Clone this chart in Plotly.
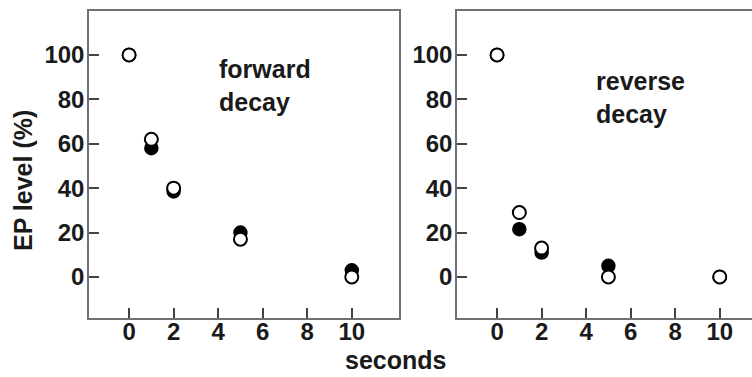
import plotly.graph_objects as go

# Data
seconds = [0, 1, 2, 5, 10]
forward_open = [100, 62, 40, 17, 0]
forward_filled = [100, 58, 38.5, 20, 3]
reverse_open = [100, 29, 13, 0, 0]
reverse_filled = [100, 21.5, 11, 5, 0]
x_ticks = [0, 2, 4, 6, 8, 10]
y_ticks = [0, 20, 40, 60, 80, 100]

FONT = "Liberation Sans, Arial, sans-serif"
INK = "#1a1a1a"
FRAME = "#707070"

fig = go.Figure()

def add_panel(xa, ya, filled, opened):
    fig.add_trace(go.Scatter(x=seconds, y=filled, mode="markers", xaxis=xa, yaxis=ya,
                             marker=dict(size=13, color="black", line=dict(color="black", width=1.5)),
                             showlegend=False, cliponaxis=False))
    fig.add_trace(go.Scatter(x=seconds, y=opened, mode="markers", xaxis=xa, yaxis=ya,
                             marker=dict(size=13, color="white", line=dict(color="black", width=2)),
                             showlegend=False, cliponaxis=False))

add_panel("x", "y", forward_filled, forward_open)
add_panel("x2", "y2", reverse_filled, reverse_open)

tickfont = dict(family=FONT, size=24, color=INK, weight="bold")
common_x = dict(tickmode="array", tickvals=x_ticks, ticks="inside", ticklen=10, tickwidth=1.5,
                tickcolor="#444", showline=True, linecolor=FRAME, linewidth=1.5,
                showgrid=False, zeroline=False, tickfont=tickfont, ticklabelstandoff=-9)
common_y = dict(tickmode="array", tickvals=y_ticks, ticks="inside", ticklen=10, tickwidth=1.5,
                tickcolor="#444", showline=True, linecolor=FRAME, linewidth=1.5,
                showgrid=False, zeroline=False, tickfont=tickfont, range=[-18.5, 119.8],
                ticklabelstandoff=-2)

fig.update_layout(
    width=752, height=377,
    margin=dict(l=0, r=0, t=0, b=0),
    paper_bgcolor="white", plot_bgcolor="white",
    xaxis=dict(domain=[89/752, 399/752], range=[-1.8, 12.12], mirror=True, anchor="y", **common_x),
    yaxis=dict(domain=[1-318/377, 1-11/377], mirror=True, anchor="x", **common_y),
    xaxis2=dict(domain=[457/752, 1.0], range=[-1.8, 11.45], mirror=True, anchor="y2", **common_x),
    yaxis2=dict(domain=[1-318/377, 1-11/377], mirror=False, anchor="x2", **common_y),
)

annfont = dict(family=FONT, size=25, color=INK, weight="bold")
fig.add_annotation(x=3.95, y=101, xref="x", yref="y", text="forward<br>decay", showarrow=False,
                   xanchor="left", yanchor="top", align="left", font=annfont)
fig.add_annotation(x=4.35, y=95.5, xref="x2", yref="y2", text="reverse<br>decay", showarrow=False,
                   xanchor="left", yanchor="top", align="left", font=annfont)

fig.add_annotation(x=23/752, y=1-181/377, xref="paper", yref="paper", text="EP level (%)",
                   textangle=-90, showarrow=False, xanchor="center", yanchor="middle",
                   font=dict(family=FONT, size=25, color=INK, weight="bold"))
fig.add_annotation(x=396/752, y=1-360/377, xref="paper", yref="paper", text="seconds",
                   showarrow=False, xanchor="center", yanchor="middle",
                   font=dict(family=FONT, size=25, color=INK, weight="bold"))

fig.write_html("out.html")
